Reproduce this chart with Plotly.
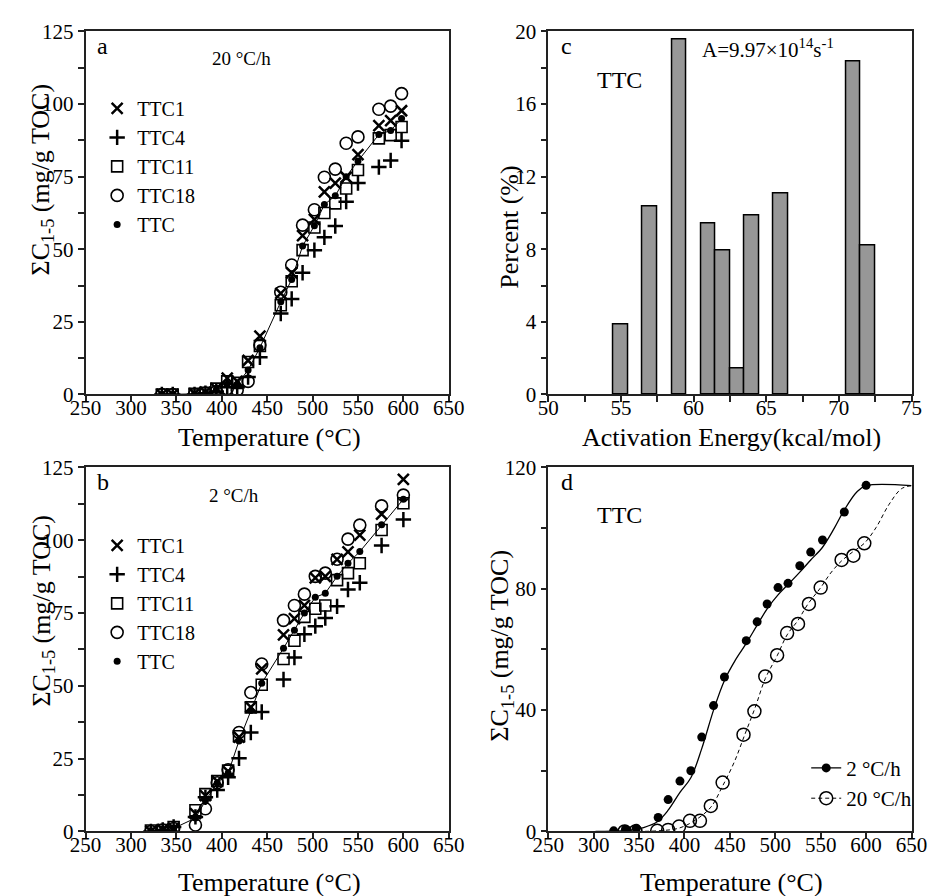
import plotly.graph_objects as go

SERIF = "Liberation Serif, Times New Roman, serif"

# ---------------- Panel a : 20 °C/h ----------------
temp_a = [334, 346, 370, 382, 394, 406, 417, 429, 442, 465, 477, 489, 502, 513, 525, 537, 550, 573, 586, 598]
a_ttc1 = [0, 0, 0.3, 0.8, 2.0, 5.6, 4.5, 11.7, 20.1, 34.8, 41.9, 54.7, 60.3, 69.8, 72.8, 74.8, 82.6, 92.6, 94.3, 97.7]
a_ttc4 = [0, 0, 0, 0.4, 1.0, 2.5, 2.5, 6.0, 12.8, 27.9, 32.9, 41.9, 49.7, 54.1, 58.0, 66.4, 72.8, 78.3, 80.6, 87.4]
a_ttc11 = [0, 0, 0.2, 0.6, 2.0, 4.5, 4.0, 11.2, 16.7, 30.7, 39.0, 49.7, 57.5, 62.5, 65.8, 70.9, 77.3, 88.2, 89.3, 92.1]
a_ttc18 = [0, 0, 0, 0.4, 1.0, 2.0, 1.5, 4.5, 17.0, 35.2, 44.6, 58.3, 63.6, 74.8, 77.6, 86.5, 88.7, 98.2, 99.3, 103.6]
a_ttc = [0, 0, 0.2, 0.5, 1.6, 3.5, 3.5, 8.4, 16.1, 31.9, 39.6, 51.1, 58.1, 65.4, 68.4, 75.0, 80.4, 89.5, 90.9, 95.0]

# ---------------- Panel b : 2 °C/h ----------------
temp_b = [322, 335, 347, 371, 382, 395, 407, 419, 432, 444, 468, 480, 491, 503, 514, 527, 539, 552, 576, 600]
b_ttc1 = [0, 0.6, 1.1, 6.1, 12.3, 17.3, 20.6, 32.4, 42.7, 55.8, 67.5, 73.1, 77.6, 87.1, 87.6, 93.4, 96.0, 101.8, 109.0, 120.9]
b_ttc4 = [0, 0.5, 1.5, 5.0, 11.7, 14.2, 18.6, 25.1, 34.0, 41.0, 52.2, 59.7, 67.7, 70.5, 73.3, 77.3, 83.1, 85.4, 98.2, 107.1]
b_ttc11 = [0.3, 0.5, 1.5, 7.3, 12.8, 17.3, 20.9, 32.7, 42.6, 50.4, 59.2, 65.5, 73.7, 76.5, 77.6, 86.3, 88.7, 92.1, 103.5, 112.7]
b_ttc18 = [0, 0.5, 1.0, 2.2, 7.8, 16.7, 21.2, 34.0, 47.7, 57.5, 72.5, 77.6, 81.5, 87.6, 88.7, 93.5, 100.4, 105.2, 111.8, 115.5]
b_ttc = [0.2, 0.75, 1.07, 4.6, 10.5, 16.6, 20.0, 31.1, 41.5, 50.9, 62.9, 69.1, 75.0, 80.4, 81.8, 87.6, 92.1, 96.1, 105.3, 114.1]

# ---------------- Panel c : activation energy distribution ----------------
energy = [55, 57, 59, 61, 62, 63, 64, 66, 71, 72]
percent = [3.84, 10.36, 19.55, 9.43, 7.95, 1.43, 9.89, 11.07, 18.36, 8.21]

# ---------------- Panel d : model curves ----------------
model2_t = [302, 320, 340, 355, 370, 382, 395, 407, 419, 432, 444, 456, 468, 480, 491, 503, 514, 527, 539, 552, 565, 576, 590, 600, 650]
model2_y = [0, 0.1, 0.4, 1.3, 3.2, 7.0, 12.9, 17.7, 27.3, 40.0, 49.8, 56.5, 62.0, 68.0, 73.4, 78.0, 81.4, 85.5, 89.5, 93.7, 100.0, 106.0, 112.0, 114.0, 114.0]
model20_t = [341, 370, 394, 412, 429, 442, 455, 466, 478, 489, 502, 513, 525, 536, 550, 561, 573, 585, 598, 611, 625, 639, 650]
model20_y = [0, 0.2, 1.1, 3.75, 8.0, 15.0, 23.0, 31.6, 41.0, 50.4, 57.9, 64.8, 69.6, 75.0, 80.4, 85.2, 89.2, 92.1, 95.0, 100.2, 107.7, 113.0, 114.0]

fig = go.Figure()

def add_sample_panel(xa, ya, leg, temp, s1, s4, s11, s18, sttc):
    fig.add_trace(go.Scatter(x=temp, y=sttc, mode="lines", line=dict(color="black", width=1),
                             xaxis=xa, yaxis=ya, showlegend=False, hoverinfo="skip"))
    specs = [("TTC1", s1, "x-thin-open", 11, 2.5),
             ("TTC4", s4, "cross-thin-open", 11, 2.5),
             ("TTC11", s11, "square-open", 11, 1.6),
             ("TTC18", s18, "circle-open", 12, 1.6)]
    for name, vals, sym, size, lw in specs:
        fig.add_trace(go.Scatter(x=temp, y=vals, mode="markers", name=name,
                                 marker=dict(symbol=sym, size=size, color="black",
                                             line=dict(color="black", width=lw)),
                                 xaxis=xa, yaxis=ya, legend=leg))
    fig.add_trace(go.Scatter(x=temp, y=sttc, mode="markers", name="TTC",
                             marker=dict(symbol="circle", size=7, color="black"),
                             xaxis=xa, yaxis=ya, legend=leg))

add_sample_panel("x", "y", "legend", temp_a, a_ttc1, a_ttc4, a_ttc11, a_ttc18, a_ttc)
add_sample_panel("x3", "y3", "legend2", temp_b, b_ttc1, b_ttc4, b_ttc11, b_ttc18, b_ttc)

# Panel c bars
fig.add_trace(go.Bar(x=energy, y=percent, width=1, xaxis="x2", yaxis="y2",
                     marker=dict(color="#979797", line=dict(color="black", width=1.5)),
                     showlegend=False))

# Panel d
fig.add_trace(go.Scatter(x=model2_t, y=model2_y, mode="lines", line=dict(color="black", width=1.3, shape="spline"),
                         xaxis="x4", yaxis="y4", showlegend=False))
fig.add_trace(go.Scatter(x=model20_t, y=model20_y, mode="lines",
                         line=dict(color="black", width=1, dash="4px,3px", shape="spline"),
                         xaxis="x4", yaxis="y4", showlegend=False))
fig.add_trace(go.Scatter(x=temp_b, y=b_ttc, mode="markers", marker=dict(symbol="circle", size=9, color="black"),
                         xaxis="x4", yaxis="y4", showlegend=False))
fig.add_trace(go.Scatter(x=temp_a, y=a_ttc, mode="markers",
                         marker=dict(symbol="circle-open", size=13, color="black", line=dict(color="black", width=1.5)),
                         xaxis="x4", yaxis="y4", showlegend=False))
# legend entries for panel d
fig.add_trace(go.Scatter(x=[None], y=[None], mode="lines+markers", name="2 °C/h",
                         line=dict(color="black", width=1.3),
                         marker=dict(symbol="circle", size=9, color="black"),
                         xaxis="x4", yaxis="y4", legend="legend3"))
fig.add_trace(go.Scatter(x=[None], y=[None], mode="lines+markers", name="20 °C/h",
                         line=dict(color="black", width=1, dash="4px,3px"),
                         marker=dict(symbol="circle-open", size=13, color="black", line=dict(color="black", width=1.5)),
                         xaxis="x4", yaxis="y4", legend="legend3"))

W, H = 942, 896
xdomL = [72 / W, 448 / W]
xdomR = [551 / W, 927 / W]
ydomT = [1 - 393 / H, 1 - 20 / H]
ydomB = [1 - 842 / H, 1 - 468 / H]

tickfont = dict(family=SERIF, size=21, color="black")

def ax(dom, anchor, rng, dtick, minor=None, is_x=False):
    d = dict(domain=dom, anchor=anchor, range=rng, dtick=dtick, tick0=rng[0],
             showline=True, mirror=True, linecolor="#222", linewidth=1.5,
             ticks="outside", ticklen=6, tickwidth=1.5, tickcolor="#222",
             showgrid=False, zeroline=False, tickfont=tickfont, fixedrange=True)
    if is_x:
        d["ticklabelstandoff"] = -12
    if minor:
        d["minor"] = dict(dtick=minor, ticks="outside", ticklen=6, tickwidth=1.5, tickcolor="#222", showgrid=False)
    return d

fig.update_layout(
    width=W, height=H,
    margin=dict(l=0, r=0, t=0, b=0),
    paper_bgcolor="white", plot_bgcolor="white",
    font=dict(family=SERIF, color="black"),
    xaxis=ax(xdomL, "y", [250, 650], 50, is_x=True),
    yaxis=ax(ydomT, "x", [0, 125], 25, 12.5),
    xaxis2=ax(xdomR, "y2", [50, 75], 5, 2.5, is_x=True),
    yaxis2=ax(ydomT, "x2", [0, 20], 4, 2),
    xaxis3=ax(xdomL, "y3", [250, 650], 50, is_x=True),
    yaxis3=ax(ydomB, "x3", [0, 125], 25, 12.5),
    xaxis4=ax(xdomR, "y4", [250, 650], 50, is_x=True),
    yaxis4=ax(ydomB, "x4", [0, 120], 40, 20),
    bargap=0,
)

legfont = dict(family=SERIF, size=20, color="black")
fig.update_layout(
    legend=dict(x=84 / W, y=1 - 79 / H, xanchor="left", yanchor="top", font=legfont,
                bgcolor="rgba(0,0,0,0)", tracegroupgap=0),
    legend2=dict(x=84 / W, y=1 - 528 / H, xanchor="left", yanchor="top", font=legfont,
                 bgcolor="rgba(0,0,0,0)", tracegroupgap=0),
    legend3=dict(x=818 / W, y=1 - 756 / H, xanchor="left", yanchor="top",
                 font=dict(family=SERIF, size=21, color="black"),
                 bgcolor="rgba(0,0,0,0)", tracegroupgap=0),
)

ann = []
def txt(text, x, y, size, xref="paper", yref="paper", xanchor="center", angle=0, yanchor="middle", yshift=0):
    ann.append(dict(text=text, x=x, y=y, xref=xref, yref=yref, xanchor=xanchor, yanchor=yanchor,
                    yshift=yshift, showarrow=False, textangle=angle,
                    font=dict(family=SERIF, size=size, color="black")))

ytitle = "ΣC<sub>1-5</sub> (mg/g TOC)"
txt(ytitle, 27 / W, 1 - 172 / H, 26, angle=-90)
txt(ytitle, 27 / W, 1 - 615 / H, 26, angle=-90)
txt("Percent (%)", 510 / W, 1 - 221 / H, 26, angle=-90)
txt(ytitle, 502 / W, 1 - 651 / H, 26, angle=-90)

txt("Temperature (°C)", 262 / W, 1 - 437 / H, 26)
txt("Activation Energy(kcal/mol)", 741 / W, 1 - 437 / H, 26)
txt("Temperature (°C)", 262 / W, 1 - 882 / H, 26, yshift=-12)
txt("Temperature (°C)", 741 / W, 1 - 882 / H, 26, yshift=-12)

txt("a", 0.025, 0.96, 24, "x domain", "y domain", "left")
txt("20 °C/h", 0.43, 0.925, 19, "x domain", "y domain")
txt("b", 0.025, 0.96, 24, "x3 domain", "y3 domain", "left")
txt("2 °C/h", 0.41, 0.922, 19, "x3 domain", "y3 domain")
txt("c", 0.03, 0.96, 24, "x2 domain", "y2 domain", "left")
txt("TTC", 0.197, 0.866, 24, "x2 domain", "y2 domain")
txt("A=9.97×10<sup>14</sup>s<sup>-1</sup>", 0.418, 0.954, 21, "x2 domain", "y2 domain", "left")
txt("d", 0.03, 0.96, 24, "x4 domain", "y4 domain", "left")
txt("TTC", 0.197, 0.869, 24, "x4 domain", "y4 domain")
fig.update_layout(annotations=ann)

fig.write_html("out.html")
